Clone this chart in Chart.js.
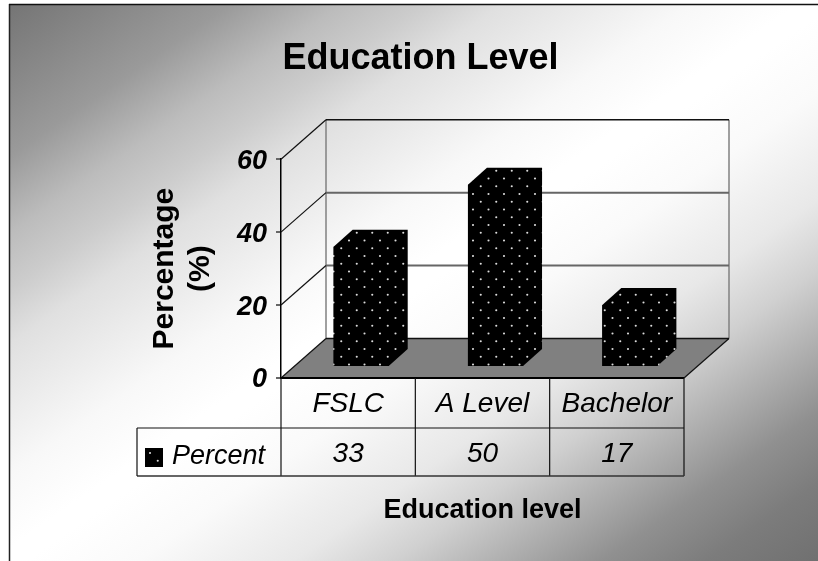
<!DOCTYPE html>
<html>
<head>
<meta charset="utf-8">
<title>Education Level</title>
<script src="https://cdn.jsdelivr.net/npm/chart.js@4"></script>
<style>
    html, body { margin: 0; background: #fff; }
    canvas { display: block; }
</style>
</head>
<body>
<canvas id="chart_canvas" width="818" height="561"></canvas>
<script>
const categories = ['FSLC', 'A Level', 'Bachelor']
const percent = [33, 50, 17]
const seriesName = 'Percent'
const yTicks = [0, 20, 40, 60]

// pseudo 3D offsets: full floor depth, bar position on the floor, bar depth
const floorDepth = { x: 45, y: -39.5 }
const barOffset = { x: 13, y: -11 }
const barDepth = { x: 19, y: -17 }

const tableRow = { top: 428, bottom: 476, left: 137 }

// black fill with staggered white dots
function dotPattern(ctx) {
    const c = document.createElement('canvas')
    c.width = 31
    c.height = 31
    const p = c.getContext('2d')
    p.fillStyle = '#000'
    p.fillRect(0, 0, 31, 31)
    p.fillStyle = '#dcdcdc'
    const rows = [[3.5, 10.5], [11.25, 2.75], [19, 10.5], [26.75, 2.75]]
    rows.forEach(([y, x]) => {
        [x, x + 15.5].forEach(px => {
            p.beginPath()
            p.arc(px, y, 1.05, 0, Math.PI * 2)
            p.fill()
        })
    })
    return ctx.createPattern(c, 'repeat')
}

function line(ctx, x1, y1, x2, y2, color, width) {
    ctx.strokeStyle = color
    ctx.lineWidth = width
    ctx.beginPath()
    ctx.moveTo(x1, y1)
    ctx.lineTo(x2, y2)
    ctx.stroke()
}

const ctx = document.getElementById('chart_canvas').getContext('2d')
const dots = dotPattern(ctx)

const box3d = {
    id: 'box3d',
    afterLayout(chart) {
        // title sits over the whole plot block, not the canvas centre
        chart.titleBlock.left = 157
    },
    beforeDraw(chart) {
        const c = chart.ctx
        // grey corners, wide white band along the other diagonal
        const bg = c.createLinearGradient(152, -97, 674, 661)
        const stops = [
            [0, '#747474'], [0.139, '#9a9a9a'], [0.208, '#bcbcbc'], [0.258, '#cccccc'],
            [0.307, '#e0e0e0'], [0.423, '#f8f8f8'], [0.489, '#ffffff'], [0.511, '#ffffff'],
            [0.58, '#fafafa'], [0.632, '#f0f0f0'], [0.676, '#e8e8e8'], [0.739, '#d0d0d0'],
            [0.802, '#b0b0b0'], [0.866, '#909090'], [0.93, '#7c7c7c'], [1, '#707070']
        ]
        stops.forEach(([t, col]) => bg.addColorStop(t, col))
        c.save()
        c.fillStyle = bg
        c.fillRect(10, 5, 808, 556)
        line(c, 9.5, 4, 9.5, 561, '#222', 1.5)
        line(c, 9, 4.5, 818, 4.5, '#111', 1.5)
        c.restore()
    },
    beforeDatasetsDraw(chart) {
        const c = chart.ctx
        const { x: xs, y: ys } = chart.scales
        const d = floorDepth
        const y0 = ys.getPixelForValue(0)
        const yTop = ys.getPixelForValue(yTicks[yTicks.length - 1])
        c.save()

        // back wall and left wall lines
        line(c, xs.left + d.x, yTop + d.y, xs.left + d.x, y0 + d.y, '#808080', 1.5)
        line(c, xs.right + d.x, yTop + d.y, xs.right + d.x, y0 + d.y, '#808080', 1.5)
        yTicks.slice(1).forEach(v => {
            const y = ys.getPixelForValue(v)
            const top = v === yTicks[yTicks.length - 1]
            line(c, xs.left + d.x, y + d.y, xs.right + d.x, y + d.y, top ? '#111' : '#666', top ? 1.5 : 2)
            line(c, xs.left, y, xs.left + d.x, y + d.y, '#111', 1.2)
        })

        // floor
        c.fillStyle = '#808080'
        c.beginPath()
        c.moveTo(xs.left, y0)
        c.lineTo(xs.right, y0)
        c.lineTo(xs.right + d.x, y0 + d.y)
        c.lineTo(xs.left + d.x, y0 + d.y)
        c.closePath()
        c.fill()
        line(c, xs.left + d.x, y0 + d.y, xs.right + d.x, y0 + d.y, '#111', 1.5)
        line(c, xs.left, y0, xs.left + d.x, y0 + d.y, '#111', 1.2)
        line(c, xs.right, y0, xs.right + d.x, y0 + d.y, '#111', 1.2)
        line(c, xs.left, y0, xs.right, y0, '#000', 2)
        c.restore()
    },
    beforeDatasetDraw(chart) {
        chart.ctx.save()
        chart.ctx.translate(barOffset.x, barOffset.y)
    },
    afterDatasetDraw(chart, args) {
        // whole prism outline in the translated space, so front and side share one fill
        const c = chart.ctx
        c.fillStyle = dots
        args.meta.data.forEach(bar => {
            const { x, y, base, width } = bar.getProps(['x', 'y', 'base', 'width'], true)
            const l = x - width / 2
            const r = x + width / 2
            c.beginPath()
            c.moveTo(l, y)
            c.lineTo(l + barDepth.x, y + barDepth.y)
            c.lineTo(r + barDepth.x, y + barDepth.y)
            c.lineTo(r + barDepth.x, base + barDepth.y)
            c.lineTo(r, base)
            c.lineTo(l, base)
            c.closePath()
            c.fill()
        })
        c.restore()
    },
    afterDraw(chart) {
        const c = chart.ctx
        const { x: xs, y: ys } = chart.scales
        const y0 = ys.getPixelForValue(0)
        const band = xs.width / categories.length
        const t = tableRow
        c.save()

        // data table under the axis
        for (let i = 0; i <= categories.length; i++) {
            const px = xs.left + band * i
            line(c, px, y0, px, t.bottom, '#111', 1.2)
        }
        line(c, t.left, t.top, xs.right, t.top, '#111', 1.2)
        line(c, t.left, t.bottom, xs.right, t.bottom, '#333', 1.5)
        line(c, t.left, t.top, t.left, t.bottom, '#111', 1.2)

        c.fillStyle = '#000'
        c.font = 'italic 28px "Liberation Sans"'
        c.textBaseline = 'middle'
        c.textAlign = 'center'
        percent.forEach((v, i) => {
            c.fillText(v, xs.getPixelForValue(i), 454)
        })

        // legend key and series name in the first cell
        c.fillStyle = dots
        c.fillRect(145, 448, 18, 19)
        c.fillStyle = '#000'
        c.textAlign = 'left'
        c.font = 'italic 27px "Liberation Sans"'
        c.fillText(seriesName, 172, 456)
        c.restore()
    }
}

Chart.defaults.font.family = '"Liberation Sans"'
Chart.defaults.color = '#000'

const data = {
    labels: categories,
    datasets: [{
        label: seriesName,
        data: percent,
        backgroundColor: dots,
        borderWidth: 0,
        categoryPercentage: 1,
        barPercentage: 0.41
    }]
}

const config = {
    type: 'bar',
    data,
    options: {
        responsive: false,
        animation: false,
        events: [],
        layout: {
            padding: { left: 130, right: 134, top: 0, bottom: 0 }
        },
        scales: {
            x: {
                grid: { display: false },
                border: { display: false },
                ticks: {
                    padding: 1,
                    maxRotation: 0,
                    font: { size: 28, style: 'italic' }
                },
                title: {
                    display: true,
                    text: 'Education level',
                    padding: { top: 0, bottom: 34 },
                    font: { size: 27, weight: 'bold' }
                },
                afterFit: (scale) => { scale.height = 183 }
            },
            y: {
                min: 0,
                max: yTicks[yTicks.length - 1],
                afterBuildTicks: (scale) => {
                    scale.ticks = yTicks.map(value => ({ value }))
                },
                grid: {
                    drawOnChartArea: false,
                    color: '#666',
                    lineWidth: 2,
                    tickLength: 5
                },
                border: { color: '#000', width: 1.5 },
                ticks: {
                    padding: 9,
                    labelOffset: 2,
                    font: { size: 27, style: 'italic', weight: 'bold' }
                },
                title: {
                    display: true,
                    text: ['Percentage', '(%)'],
                    padding: { top: 17, bottom: 0 },
                    font: { size: 30, weight: 'bold' }
                },
                afterFit: (scale) => { scale.width = 151 }
            }
        },
        plugins: {
            legend: { display: false },
            tooltip: { enabled: false },
            title: {
                display: true,
                text: 'Education Level',
                padding: { top: 37, bottom: 79 },
                font: { size: 36, weight: 'bold' }
            }
        }
    },
    plugins: [box3d]
}

new Chart(ctx, config)
</script>
</body>
</html>
